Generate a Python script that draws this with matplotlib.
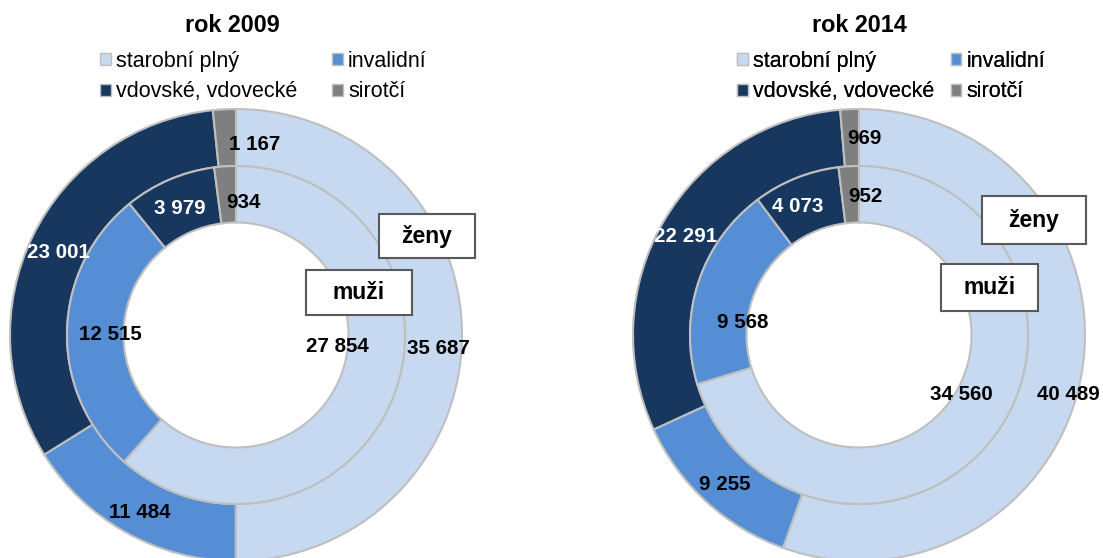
import matplotlib.pyplot as plt
from matplotlib.patches import Patch, Rectangle

plt.rcParams['font.family'] = ['Liberation Sans', 'DejaVu Sans']

# ---------------- data ----------------
druhy = ["starobní plný", "invalidní", "vdovské, vdovecké", "sirotčí"]
barvy = ["#C6D9F1", "#558ED5", "#17375E", "#7F7F7F"]
barvy_popisku = ["black", "black", "white", "black"]

roky = ["rok 2009", "rok 2014"]
zeny_2009 = [35687, 11484, 23001, 1167]
muzi_2009 = [27854, 12515, 3979, 934]
zeny_2014 = [40489, 9255, 22291, 969]
muzi_2014 = [34560, 9568, 4073, 952]

# ---------------- layout (pixels, y from top) ----------------
W, H = 1103, 558
stredy = [(236, 335), (859, 335)]
R_OUT, R_MID, R_HOLE = 226, 169, 112.5

# label positions as placed in the original (moved by hand in places)
pozice_zeny = [
    [(438, 346), (140, 510), (58, 251), (255, 142)],
    [(1068, 393), (725, 482), (686, 234), (864, 137)],
]
pozice_muzi = [
    [(337, 345), (110, 332), (180, 207), (243, 200)],
    [(961, 393), (743, 321), (798, 204), (865, 194)],
]
titulky_xy = [(232, 25), (859, 25)]
legenda_xy = [(100, 51), (737, 51)]
legenda_mezera = [1.6, 0.75]
# (x0, y0, x1, y1) of the "ženy" / "muži" boxes
box_zeny = [(379, 214, 475, 258), (982, 196, 1086, 244)]
box_muzi = [(306, 270, 412, 315), (941, 264, 1038, 311)]

EDGE = "#BFBFBF"


def fmt(v):
    return f"{v:,}".replace(",", " ")


def py(y):
    return H - y


fig = plt.figure(figsize=(W / 100, H / 100), dpi=100)
ax = fig.add_axes([0, 0, 1, 1])

data = [(zeny_2009, muzi_2009), (zeny_2014, muzi_2014)]

for i, (zeny, muzi) in enumerate(data):
    cx, cy = stredy[i]
    ax.pie(zeny, colors=barvy, radius=R_OUT, center=(cx, py(cy)),
           startangle=90, counterclock=False,
           wedgeprops=dict(width=R_OUT - R_MID, edgecolor=EDGE, linewidth=1.5))
    ax.pie(muzi, colors=barvy, radius=R_MID, center=(cx, py(cy)),
           startangle=90, counterclock=False,
           wedgeprops=dict(width=R_MID - R_HOLE, edgecolor=EDGE, linewidth=1.5))

    for v, (x, y), c in zip(zeny, pozice_zeny[i], barvy_popisku):
        ax.text(x, py(y), fmt(v), ha="center", va="center_baseline",
                fontsize=14.8, fontweight="bold", color=c, zorder=4)
    for v, (x, y), c in zip(muzi, pozice_muzi[i], barvy_popisku):
        ax.text(x, py(y), fmt(v), ha="center", va="center_baseline",
                fontsize=14.8, fontweight="bold", color=c, zorder=4)

    for (x0, y0, x1, y1), txt in ((box_zeny[i], "ženy"), (box_muzi[i], "muži")):
        ax.add_patch(Rectangle((x0, py(y1)), x1 - x0, y1 - y0, facecolor="white",
                               edgecolor="#595959", linewidth=1.5, zorder=5))
        ax.text((x0 + x1) / 2, py((y0 + y1) / 2), txt, ha="center", va="center",
                fontsize=16.5, fontweight="bold", zorder=6)

    tx, ty = titulky_xy[i]
    ax.text(tx, py(ty), roky[i], ha="center", va="center",
            fontsize=16.8, fontweight="bold")

    # legend: column-first fill, so reorder to match the 2x2 grid
    poradi = [0, 2, 1, 3]
    handles = [Patch(facecolor=barvy[k], edgecolor=EDGE, linewidth=1) for k in poradi]
    labels = [druhy[k] for k in poradi]
    lx, ly = legenda_xy[i]
    leg = ax.legend(handles, labels, ncol=2, loc="upper left",
                    bbox_to_anchor=(lx, py(ly)), bbox_transform=ax.transData,
                    frameon=False, fontsize=15.5, handlelength=0.5,
                    handleheight=0.5, handletextpad=0.25,
                    columnspacing=legenda_mezera[i],
                    labelspacing=0.44, borderpad=0, borderaxespad=0)
    ax.add_artist(leg)

ax.set_xlim(0, W)
ax.set_ylim(0, H)
ax.set_aspect("auto")
ax.axis("off")

fig.savefig("out.png", dpi=100)
